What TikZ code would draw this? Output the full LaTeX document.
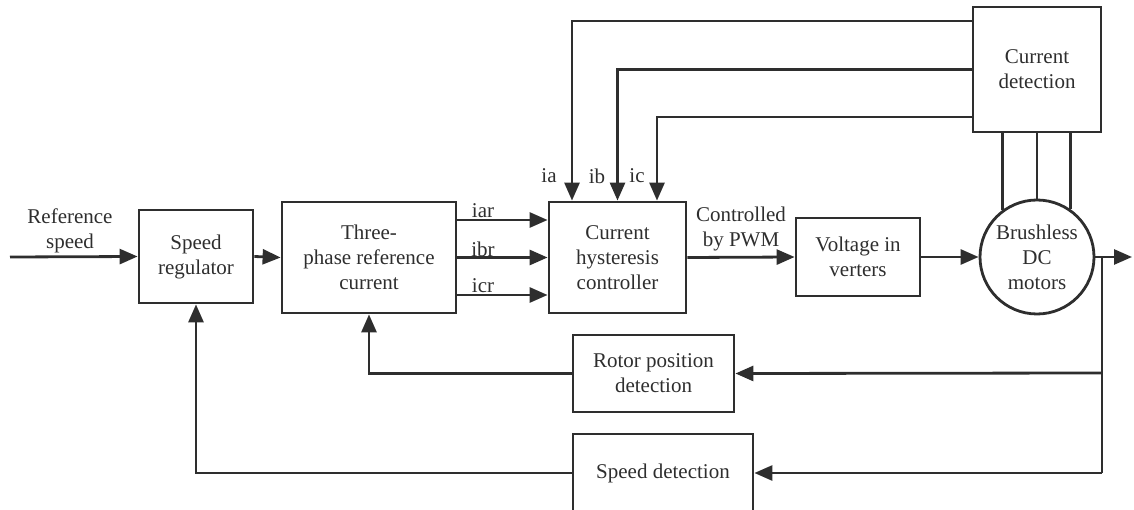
\documentclass[tikz,border=0pt]{standalone}
\usepackage{fontspec}
\setmainfont{Liberation Serif}
\usetikzlibrary{arrows.meta,calc}
\definecolor{ink}{HTML}{2E2E2E}
\begin{document}
\begin{tikzpicture}[x=1pt,y=-1pt,
  every node/.style={font=\fontsize{21}{25}\selectfont, text=ink},
  blk/.style={draw=ink, line width=2.8pt, rectangle, inner sep=0pt, align=center},
  wire/.style={draw=ink, line width=2.8pt},
  arr/.style={wire, -{Triangle[length=18pt,width=15pt]}},
  lbl/.style={inner sep=0pt, align=center}]
\useasboundingbox (0,0) rectangle (1134,510);

% blocks
\node[blk, minimum width=114pt, minimum height=93pt]  (sreg)  at (196,256.5) {Speed\\regulator};
\node[blk, minimum width=174pt, minimum height=111pt] (three) at (369,257.5) {Three-\\phase reference\\current};
\node[blk, minimum width=137pt, minimum height=111pt] (hyst)  at (617.5,257.5) {Current\\hysteresis\\controller};
\node[blk, minimum width=124pt, minimum height=78pt]  (volt)  at (858,257) {Voltage in\\verters};
\node[blk, circle, minimum size=114pt]                (motor) at (1037,257) {Brushless\\DC\\motors};
\node[blk, minimum width=128pt, minimum height=125pt] (cdet)  at (1037,69.5) {Current\\detection};
\node[blk, minimum width=161pt, minimum height=77pt]  (rotor) at (653.5,373.5) {Rotor position\\detection};
\node[blk, minimum width=180pt, minimum height=78pt]  (sdet)  at (663,473) {Speed detection};

% free ends and branch points
\coordinate (in)  at (10,257);
\coordinate (out) at (1132,257);
\coordinate (tap) at (1102,257);
\coordinate (tapr) at (1102,373);
\coordinate (taps) at (1102,473);

% forward path
\draw[arr] (in) -- (sreg.west);
\draw[arr] (sreg.east) -- (three.west);
\draw[arr] ([yshift=37.5pt]three.east) -- ([yshift=37.5pt]hyst.west);
\draw[arr] (three.east) -- (hyst.west);
\draw[arr] ([yshift=-37.5pt]three.east) -- ([yshift=-37.5pt]hyst.west);
\draw[arr] (hyst.east) -- (volt.west);
\draw[arr] (volt.east) -- (motor.west);
\draw[arr] (motor.east) -- (out);

% current feedback
\draw[arr] ([yshift=48.5pt]cdet.west) -| ([xshift=-45.5pt]hyst.north);
\draw[arr] (cdet.west) -| (hyst.north);
\draw[arr] ([yshift=-47.5pt]cdet.west) -| ([xshift=39.5pt]hyst.north);
\draw[wire] (motor.126.6) -- (motor.126.6 |- cdet.south);
\draw[wire] (motor.north) -- (motor.north |- cdet.south);
\draw[wire] (motor.55.9) -- (motor.55.9 |- cdet.south);

% position and speed feedback
\draw[wire] (tap) -- (taps);
\draw[arr] (tapr) -- (rotor.east);
\draw[arr] (taps) -- (sdet.east);
\draw[arr] (rotor.west) -| (three.south);
\draw[arr] (sdet.west) -| (sreg.south);

% labels
\node[lbl] (lref) at (70,231) {Reference\\speed};
\node[lbl] (liar) at (483,211) {iar};
\node[lbl] (libr) at (483,249) {ibr};
\node[lbl] (licr) at (483,286) {icr};
\node[lbl] (lia) at (549,176) {ia};
\node[lbl] (lib) at (597,176) {ib};
\node[lbl] (lic) at (637,176) {ic};
\node[lbl] (lpwm) at (741,229) {Controlled\\by PWM};
\end{tikzpicture}
\end{document}
